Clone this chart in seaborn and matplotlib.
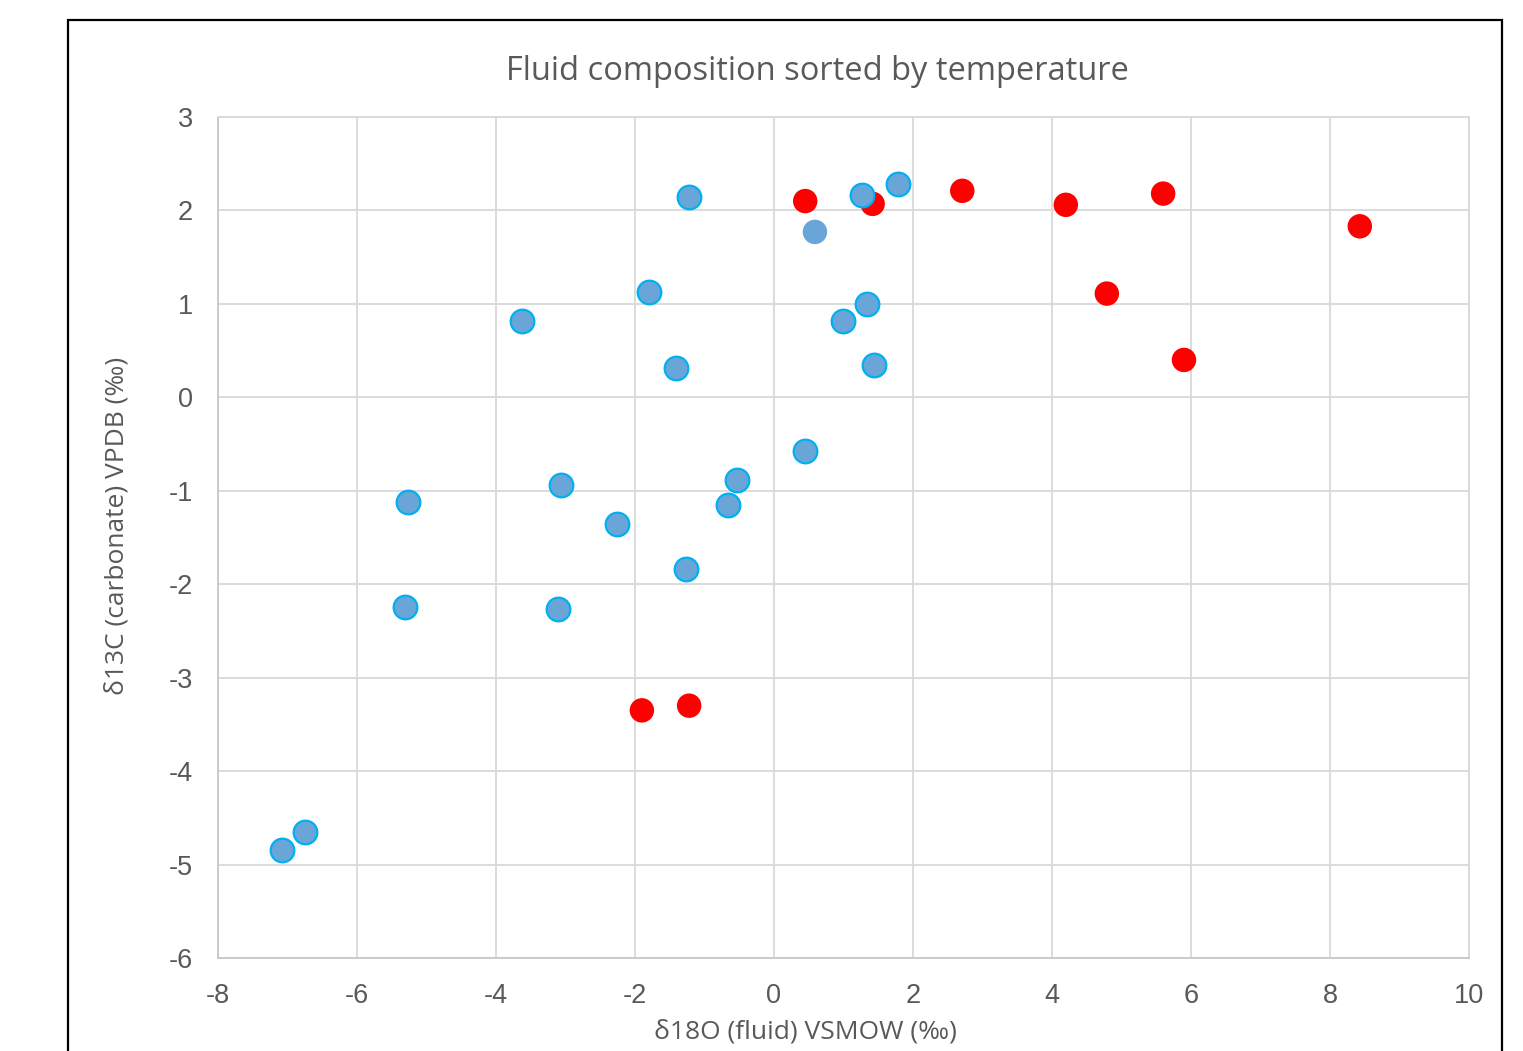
import matplotlib
matplotlib.use("Agg")
import matplotlib.pyplot as plt
import seaborn as sns
import pandas as pd
from matplotlib.patches import Rectangle

# Data
blue_x = [-1.22, 1.27, 1.78, -1.80, -3.63, 1.34, 0.99, -1.41, 1.44,
          0.45, -0.53, -0.66, -3.06, -5.27, -2.26, -1.27, -5.31, -3.11, -6.75, -7.08]
blue_y = [2.14, 2.17, 2.28, 1.13, 0.82, 1.00, 0.82, 0.31, 0.35,
          -0.57, -0.88, -1.15, -0.94, -1.12, -1.36, -1.84, -2.24, -2.27, -4.65, -4.84]
blue_plain_x = [0.59]
blue_plain_y = [1.77]
red_x = [0.45, 1.42, 2.71, 4.20, 5.60, 8.43, 4.79, 5.90, -1.90, -1.22]
red_y = [2.10, 2.07, 2.21, 2.06, 2.18, 1.83, 1.11, 0.40, -3.35, -3.30]

x_ticks = [-8, -6, -4, -2, 0, 2, 4, 6, 8, 10]
y_ticks = [-6, -5, -4, -3, -2, -1, 0, 1, 2, 3]

title = "Fluid composition sorted by temperature"
x_label = "δ18O (fluid) VSMOW (‰)"
y_label = "δ13C (carbonate) VPDB (‰)"

sns.set_theme(style="white")
plt.rcParams['font.family'] = ['Liberation Sans', 'DejaVu Sans']
plt.rcParams['axes.unicode_minus'] = False

fig = plt.figure(figsize=(15.23, 10.51), dpi=100)
ax = fig.add_axes([0.1431, 0.0885, 0.8214, 0.8002])

red_df = pd.DataFrame({"x": red_x, "y": red_y})
blue_df = pd.DataFrame({"x": blue_x, "y": blue_y})
blue_plain_df = pd.DataFrame({"x": blue_plain_x, "y": blue_plain_y})

sns.scatterplot(data=red_df, x="x", y="y", ax=ax, color="#FF0000",
                s=310, edgecolor="none", linewidth=0, zorder=3)
sns.scatterplot(data=blue_plain_df, x="x", y="y", ax=ax, color="#6AA5D8",
                s=310, edgecolor="none", linewidth=0, zorder=4)
sns.scatterplot(data=blue_df, x="x", y="y", ax=ax, color="#6AA5D8",
                s=290, edgecolor="#00B0F0", linewidth=1.6, zorder=4)

ax.set_xlim(-8, 10)
ax.set_ylim(-6, 3)
ax.set_xticks(x_ticks)
ax.set_yticks(y_ticks)
ax.grid(True, color="#D9D9D9", linewidth=1.3)
ax.set_axisbelow(True)
for side, sp in ax.spines.items():
    sp.set_color("#D9D9D9")
    sp.set_linewidth(1.3)
ax.spines['left'].set_color("#C8C8C8")
ax.spines['bottom'].set_color("#C8C8C8")
ax.tick_params(axis='both', length=0, labelsize=19.5, labelcolor="#595959")
ax.tick_params(axis='y', pad=18)
ax.tick_params(axis='x', pad=18)

ax.set_xlabel(x_label, fontsize=19, color="#595959", family=['Open Sans', 'DejaVu Sans'])
ax.set_ylabel(y_label, fontsize=19, color="#595959", family=['Open Sans', 'DejaVu Sans'])
ax.xaxis.set_label_coords((805 - 218) / 1251, -(1032 - 958) / 841, transform=ax.transAxes)
ax.yaxis.set_label_coords(-(218 - 117) / 1251, (958 - 526) / 841, transform=ax.transAxes)
ax.xaxis.label.set_va('center')
ax.yaxis.label.set_va('center')

fig.text(0.537, 0.932, title, ha='center', va='center', fontsize=23.5,
         color="#595959", family=['Open Sans', 'DejaVu Sans'])

# Black frame around chart area (bottom edge cut off)
frame = Rectangle((68 / 1523, -0.05), (1502 - 68) / 1523, (1051 - 20) / 1051 + 0.05,
                  transform=fig.transFigure, fill=False, edgecolor="black",
                  linewidth=1.6, clip_on=False)
fig.patches.append(frame)

fig.savefig("out.png", dpi=100)
